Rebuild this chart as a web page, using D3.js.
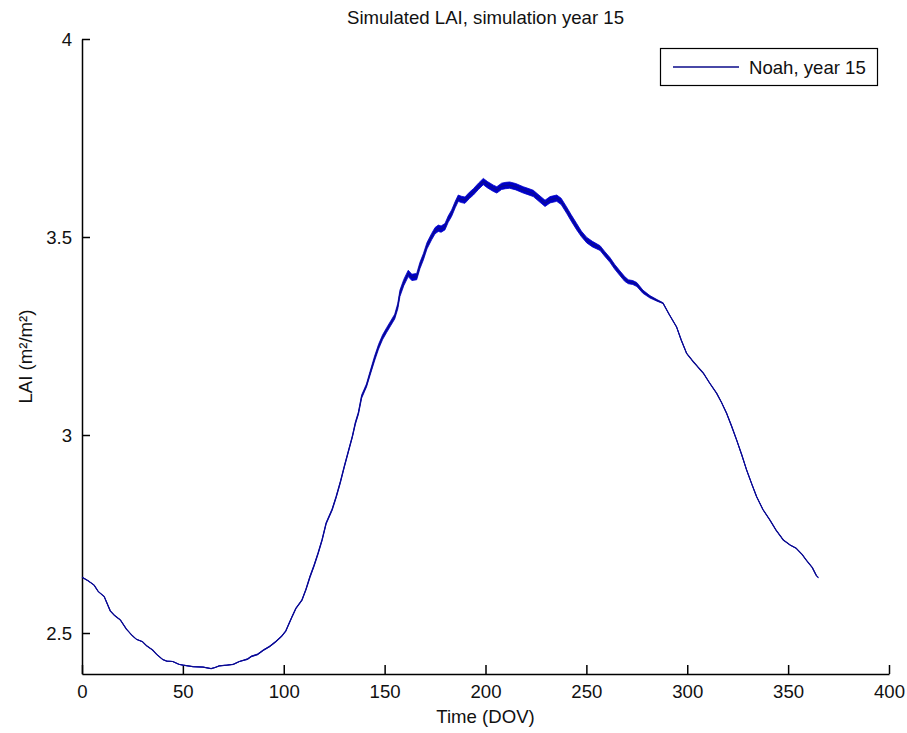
<!DOCTYPE html>
<html>
<head>
<meta charset="utf-8">
<script src="https://cdn.jsdelivr.net/npm/d3@7"></script>
<style>
  html, body { margin: 0; padding: 0; background: #fff; }
  svg text { font-family: Arial, "Liberation Sans", Helvetica, sans-serif; fill: #111; }
</style>
</head>
<body>
<svg id="chart" width="907" height="733"></svg>
<script>
// Day of year for each sample
const days = [0, 3, 6, 8, 11, 14, 16, 19, 22, 25, 27, 30, 32, 35, 37, 40, 42, 45, 48, 50,
  55, 60, 64, 66, 68, 72, 75, 78, 82, 84, 87, 90, 93, 96, 99, 101, 104, 106, 109, 111,
  113, 115, 117, 119, 121, 124, 126, 128, 130, 132, 134, 135.5, 137, 138.6, 141, 142.8, 145, 147, 149, 151,
  153, 155, 156.5, 157.6, 159.5, 161.7, 163.5, 165.9, 167.5, 169.2, 171, 173.3, 175, 176.6, 178, 179.9, 181.5, 183.2, 185, 186.5,
  188, 189.8, 192, 194, 196.5, 198.9, 201, 203.9, 205.6, 208, 210, 212, 215, 218.7, 221, 223.7, 226, 229.5, 232, 235.3,
  237.5, 240.2, 242.5, 245.2, 247.5, 250.2, 253, 256.8, 259, 261.7, 264, 266.7, 269, 270.8, 273, 275, 278, 281.5, 285, 288,
  291, 294.7, 297, 299.7, 303, 308, 311, 314.6, 317, 319.5, 322, 324.5, 327, 329.4, 332, 334.4, 337.5, 341, 344, 347.6,
  351, 354, 357, 359, 362, 364, 365];

// Simulated leaf area index (m²/m²)
const lai = [2.641, 2.632, 2.621, 2.605, 2.592, 2.556, 2.545, 2.533, 2.510, 2.493, 2.484, 2.478, 2.468, 2.457, 2.446, 2.433, 2.429, 2.428, 2.421, 2.419,
  2.415, 2.414, 2.410, 2.413, 2.417, 2.419, 2.421, 2.428, 2.434, 2.441, 2.446, 2.457, 2.466, 2.478, 2.492, 2.505, 2.540, 2.562, 2.583, 2.610,
  2.642, 2.670, 2.701, 2.735, 2.777, 2.812, 2.844, 2.880, 2.920, 2.958, 2.996, 3.030, 3.055, 3.097, 3.125, 3.156, 3.193, 3.223, 3.247, 3.265,
  3.282, 3.299, 3.325, 3.358, 3.385, 3.408, 3.398, 3.400, 3.428, 3.450, 3.478, 3.501, 3.516, 3.522, 3.520, 3.526, 3.545, 3.560, 3.582, 3.598,
  3.595, 3.593, 3.605, 3.614, 3.628, 3.640, 3.632, 3.623, 3.619, 3.628, 3.630, 3.631, 3.627, 3.619, 3.615, 3.610, 3.600, 3.585, 3.594, 3.598,
  3.590, 3.568, 3.548, 3.526, 3.508, 3.492, 3.482, 3.472, 3.458, 3.442, 3.425, 3.408, 3.394, 3.387, 3.385, 3.380, 3.362, 3.349, 3.340, 3.333,
  3.305, 3.273, 3.240, 3.206, 3.185, 3.156, 3.132, 3.105, 3.082, 3.055, 3.022, 2.987, 2.950, 2.912, 2.876, 2.844, 2.812, 2.785, 2.760, 2.735,
  2.722, 2.714, 2.698, 2.684, 2.665, 2.645, 2.640];

// Half-width of the within-day scatter of LAI around each sample
const laiSpread = [0, 0, 0, 0, 0, 0, 0, 0, 0, 0, 0, 0, 0, 0, 0, 0, 0, 0, 0, 0,
  0, 0, 0, 0, 0, 0, 0, 0, 0.001, 0.001, 0.001, 0.001, 0.001, 0.001, 0.001, 0.001, 0.001, 0.001, 0.001, 0.001,
  0.002, 0.002, 0.002, 0.002, 0.002, 0.002, 0.002, 0.002, 0.002, 0.002, 0.002, 0.003, 0.003, 0.004, 0.004, 0.005, 0.006, 0.006, 0.006, 0.006,
  0.006, 0.006, 0.007, 0.008, 0.008, 0.008, 0.008, 0.008, 0.008, 0.008, 0.008, 0.008, 0.008, 0.008, 0.008, 0.008, 0.008, 0.008, 0.008, 0.008,
  0.008, 0.008, 0.008, 0.008, 0.008, 0.008, 0.008, 0.008, 0.008, 0.008, 0.008, 0.008, 0.008, 0.008, 0.008, 0.008, 0.008, 0.008, 0.008, 0.008,
  0.008, 0.008, 0.008, 0.008, 0.007, 0.007, 0.007, 0.006, 0.006, 0.006, 0.006, 0.006, 0.006, 0.005, 0.005, 0.005, 0.004, 0.003, 0.002, 0.001,
  0, 0, 0, 0, 0, 0, 0, 0, 0, 0, 0.001, 0, 0, 0, 0, 0, 0, 0, 0, 0,
  0, 0, 0, 0, 0, 0, 0];

const xTicks = [0, 50, 100, 150, 200, 250, 300, 350, 400];
const yTicks = [2.5, 3, 3.5, 4];

const titleText = "Simulated LAI, simulation year 15";
const xLabel = "Time (DOV)";
const yLabel = "LAI (m²/m²)";
const seriesName = "Noah, year 15";

const svg = d3.select("#chart");
const plot = { left: 82, right: 889, top: 39, bottom: 674 };

const x = d3.scaleLinear().domain([0, 400]).range([plot.left, plot.right]);
const y = d3.scaleLinear().domain([2.3965, 4]).range([plot.bottom, plot.top]);

const lineColor = "#0b0b8a";
const fontSize = 18.6;

// Axes (ticks drawn inward, no box on top/right)
const xAxis = d3.axisBottom(x).tickValues(xTicks).tickSizeInner(-9).tickSizeOuter(0).tickPadding(14)
  .tickFormat(d3.format("d"));
const yAxis = d3.axisLeft(y).tickValues(yTicks).tickSizeInner(-8).tickSizeOuter(0).tickPadding(10)
  .tickFormat(d => String(d));

const gx = svg.append("g").attr("transform", `translate(0,${plot.bottom})`).call(xAxis);
const gy = svg.append("g").attr("transform", `translate(${plot.left},0)`).call(yAxis);

[gx, gy].forEach(g => {
  g.select(".domain").attr("stroke", "#000").attr("stroke-width", 1.5);
  g.selectAll(".tick line").attr("stroke", "#000").attr("stroke-width", 1.5);
  g.selectAll(".tick text").attr("font-size", fontSize)
    .attr("font-family", "Arial, 'Liberation Sans', sans-serif").attr("fill", "#111");
});
gx.selectAll(".tick text").attr("dy", "0.55em");
gy.selectAll(".tick text").attr("dy", "0.35em");

// Within-day scatter band
const data = days.map((d, i) => ({ d, v: lai[i], s: laiSpread[i] }));
const band = d3.area()
  .x(p => x(p.d))
  .y0(p => y(p.v - p.s))
  .y1(p => y(p.v + p.s));
svg.append("path").datum(data).attr("d", band)
  .attr("fill", "#0000c8").attr("stroke", "#0000c8").attr("stroke-width", 0.8);

// LAI series
const line = d3.line().x(p => x(p.d)).y(p => y(p.v));
svg.append("path").datum(data).attr("d", line)
  .attr("fill", "none").attr("stroke", lineColor).attr("stroke-width", 1.2);

// Title and axis labels
svg.append("text").attr("x", (plot.left + plot.right) / 2).attr("y", 24)
  .attr("text-anchor", "middle").attr("font-size", fontSize).text(titleText);
svg.append("text").attr("x", (plot.left + plot.right) / 2).attr("y", 723)
  .attr("text-anchor", "middle").attr("font-size", fontSize).text(xLabel);
svg.append("text").attr("transform", `translate(32,${(plot.top + plot.bottom) / 2}) rotate(-90)`)
  .attr("text-anchor", "middle").attr("font-size", fontSize).text(yLabel);

// Legend
const legend = svg.append("g");
legend.append("rect").attr("x", 660.5).attr("y", 48.5).attr("width", 217).attr("height", 37)
  .attr("fill", "#fff").attr("stroke", "#000").attr("stroke-width", 1.2);
legend.append("line").attr("x1", 673).attr("x2", 739).attr("y1", 67).attr("y2", 67)
  .attr("stroke", lineColor).attr("stroke-width", 1.5);
legend.append("text").attr("x", 749).attr("y", 74).attr("font-size", fontSize).text(seriesName);
</script>
</body>
</html>
